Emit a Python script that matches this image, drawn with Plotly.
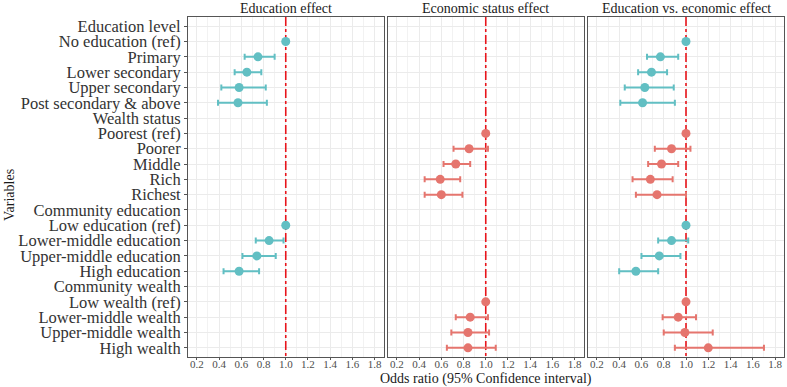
import plotly.graph_objects as go

labels = ["Education level", "No education (ref)", "Primary", "Lower secondary",
          "Upper secondary", "Post secondary & above", "Wealth status", "Poorest (ref)",
          "Poorer", "Middle", "Rich", "Richest", "Community education",
          "Low education (ref)", "Lower-middle education", "Upper-middle education",
          "High education", "Community wealth", "Low wealth (ref)",
          "Lower-middle wealth", "Upper-middle wealth", "High wealth"]

panels = ["Education effect", "Economic status effect", "Education vs. economic effect"]

edu_vars = ["No education (ref)", "Primary", "Lower secondary", "Upper secondary",
            "Post secondary & above", "Low education (ref)", "Lower-middle education",
            "Upper-middle education", "High education"]
wealth_vars = ["Poorest (ref)", "Poorer", "Middle", "Rich", "Richest",
               "Low wealth (ref)", "Lower-middle wealth", "Upper-middle wealth", "High wealth"]

# Panel 1: Education effect
p1_or = [1.00, 0.75, 0.65, 0.58, 0.57, 1.00, 0.85, 0.74, 0.58]
p1_lo = [1.00, 0.63, 0.54, 0.42, 0.39, 1.00, 0.73, 0.61, 0.44]
p1_hi = [1.00, 0.90, 0.78, 0.82, 0.83, 1.00, 0.98, 0.91, 0.76]

# Panel 2: Economic status effect
p2_or = [1.00, 0.85, 0.73, 0.59, 0.60, 1.00, 0.86, 0.84, 0.84]
p2_lo = [1.00, 0.71, 0.62, 0.45, 0.45, 1.00, 0.73, 0.69, 0.65]
p2_hi = [1.00, 1.02, 0.86, 0.77, 0.79, 1.00, 1.02, 1.03, 1.09]

# Panel 3: Education vs. economic effect
p3_edu_or = [1.00, 0.77, 0.69, 0.63, 0.61, 1.00, 0.87, 0.76, 0.55]
p3_edu_lo = [1.00, 0.65, 0.57, 0.45, 0.41, 1.00, 0.75, 0.60, 0.40]
p3_edu_hi = [1.00, 0.93, 0.83, 0.89, 0.90, 1.00, 1.02, 0.95, 0.75]
p3_wl_or = [1.00, 0.87, 0.78, 0.68, 0.74, 1.00, 0.93, 0.99, 1.20]
p3_wl_lo = [1.00, 0.72, 0.66, 0.52, 0.55, 1.00, 0.79, 0.80, 0.90]
p3_wl_hi = [1.00, 1.04, 0.93, 0.88, 1.00, 1.00, 1.09, 1.24, 1.70]

x_ticks = [0.2, 0.4, 0.6, 0.8, 1.0, 1.2, 1.4, 1.6, 1.8]

TEAL = "#62BFC3"
RED = "#E5756E"
FONT = "Liberation Serif"

fig = go.Figure()

def add_series(axis_idx, names, orv, lo, hi, color):
    xa = "x" if axis_idx == 1 else f"x{axis_idx}"
    ya = "y" if axis_idx == 1 else f"y{axis_idx}"
    fig.add_trace(go.Scatter(
        x=orv, y=[labels.index(n) for n in names], mode="markers", xaxis=xa, yaxis=ya,
        marker=dict(color=color, size=9),
        error_x=dict(type="data", symmetric=False,
                     array=[h - o for h, o in zip(hi, orv)],
                     arrayminus=[o - l for o, l in zip(orv, lo)],
                     color=color, thickness=2, width=3),
        showlegend=False, hoverinfo="skip"))

W = 596.0
ml, mr, mt, mb = 188, 3, 17, 30
pw, ph = 787 - ml - mr, 387 - mt - mb
domains = [[0, 195.5 / W], [200 / W, 395.5 / W], [400 / W, 1.0]]

# reference line first (drawn beneath points)
for i in range(3):
    xa = "x" if i == 0 else f"x{i + 1}"
    ya = "y" if i == 0 else f"y{i + 1}"
    fig.add_trace(go.Scatter(x=[1, 1], y=[-0.6, 21.6], mode="lines", xaxis=xa, yaxis=ya,
                             line=dict(color="#E8141B", width=1.6, dash="dashdot"),
                             showlegend=False, hoverinfo="skip"))

add_series(1, edu_vars, p1_or, p1_lo, p1_hi, TEAL)
add_series(2, wealth_vars, p2_or, p2_lo, p2_hi, RED)
add_series(3, edu_vars, p3_edu_or, p3_edu_lo, p3_edu_hi, TEAL)
add_series(3, wealth_vars, p3_wl_or, p3_wl_lo, p3_wl_hi, RED)

layout = dict(
    width=787, height=387,
    margin=dict(l=ml, r=mr, t=mt, b=mb),
    paper_bgcolor="white", plot_bgcolor="white",
    font=dict(family=FONT, color="#333333"),
)
for i in range(3):
    sfx = "" if i == 0 else str(i + 1)
    layout["xaxis" + sfx] = dict(
        domain=domains[i], range=[0.12, 1.88], anchor="y" + sfx,
        tickmode="array", tickvals=x_ticks, ticktext=[f"{v:.1f}" for v in x_ticks],
        tickfont=dict(family=FONT, size=11, color="#4D4D4D"),
        ticklabelstandoff=-5,
        showgrid=True, gridcolor="#EBEBEB", gridwidth=1,
        minor=dict(tickvals=[0.3, 0.5, 0.7, 0.9, 1.1, 1.3, 1.5, 1.7],
                   showgrid=True, gridcolor="#F2F2F2", gridwidth=1, ticks=""),
        showline=True, linecolor="#555555", linewidth=1, mirror=True,
        ticks="outside", ticklen=2, tickcolor="#555555",
        zeroline=False, fixedrange=True,
    )
    layout["yaxis" + sfx] = dict(
        anchor="x" + sfx,
        range=[21.6, -0.6],
        tickmode="array", tickvals=list(range(len(labels))), ticktext=labels,
        showticklabels=(i == 0),
        tickfont=dict(family=FONT, size=16.5, color="#333333"),
        showgrid=True, gridcolor="#EBEBEB", gridwidth=1,
        showline=True, linecolor="#555555", linewidth=1, mirror=True,
        ticks="outside" if i == 0 else "", ticklen=3, tickcolor="#555555",
        zeroline=False, fixedrange=True,
    )
fig.update_layout(**layout)

def to_plot(px, py):
    return (px - ml) / pw, 1 - (py - mt) / ph

anns = []
for i, t in enumerate(panels):
    cx = (domains[i][0] + domains[i][1]) / 2
    _, yy = to_plot(0, 8.5)
    anns.append(dict(text=t, x=cx, y=yy, xref="paper", yref="paper",
                     showarrow=False, xanchor="center", yanchor="middle",
                     font=dict(family=FONT, size=14, color="#1A1A1A")))
ax, ay = to_plot(486, 378.5)
anns.append(dict(text="Odds ratio (95% Confidence interval)", x=ax, y=ay,
                 xref="paper", yref="paper", showarrow=False,
                 xanchor="center", yanchor="middle",
                 font=dict(family=FONT, size=14, color="#1A1A1A")))
vx, vy = to_plot(9, 195)
anns.append(dict(text="Variables", x=vx, y=vy, xref="paper", yref="paper",
                 showarrow=False, textangle=-90, xanchor="center", yanchor="middle",
                 font=dict(family=FONT, size=14, color="#1A1A1A")))
fig.update_layout(annotations=anns)

fig.write_html("out.html")
